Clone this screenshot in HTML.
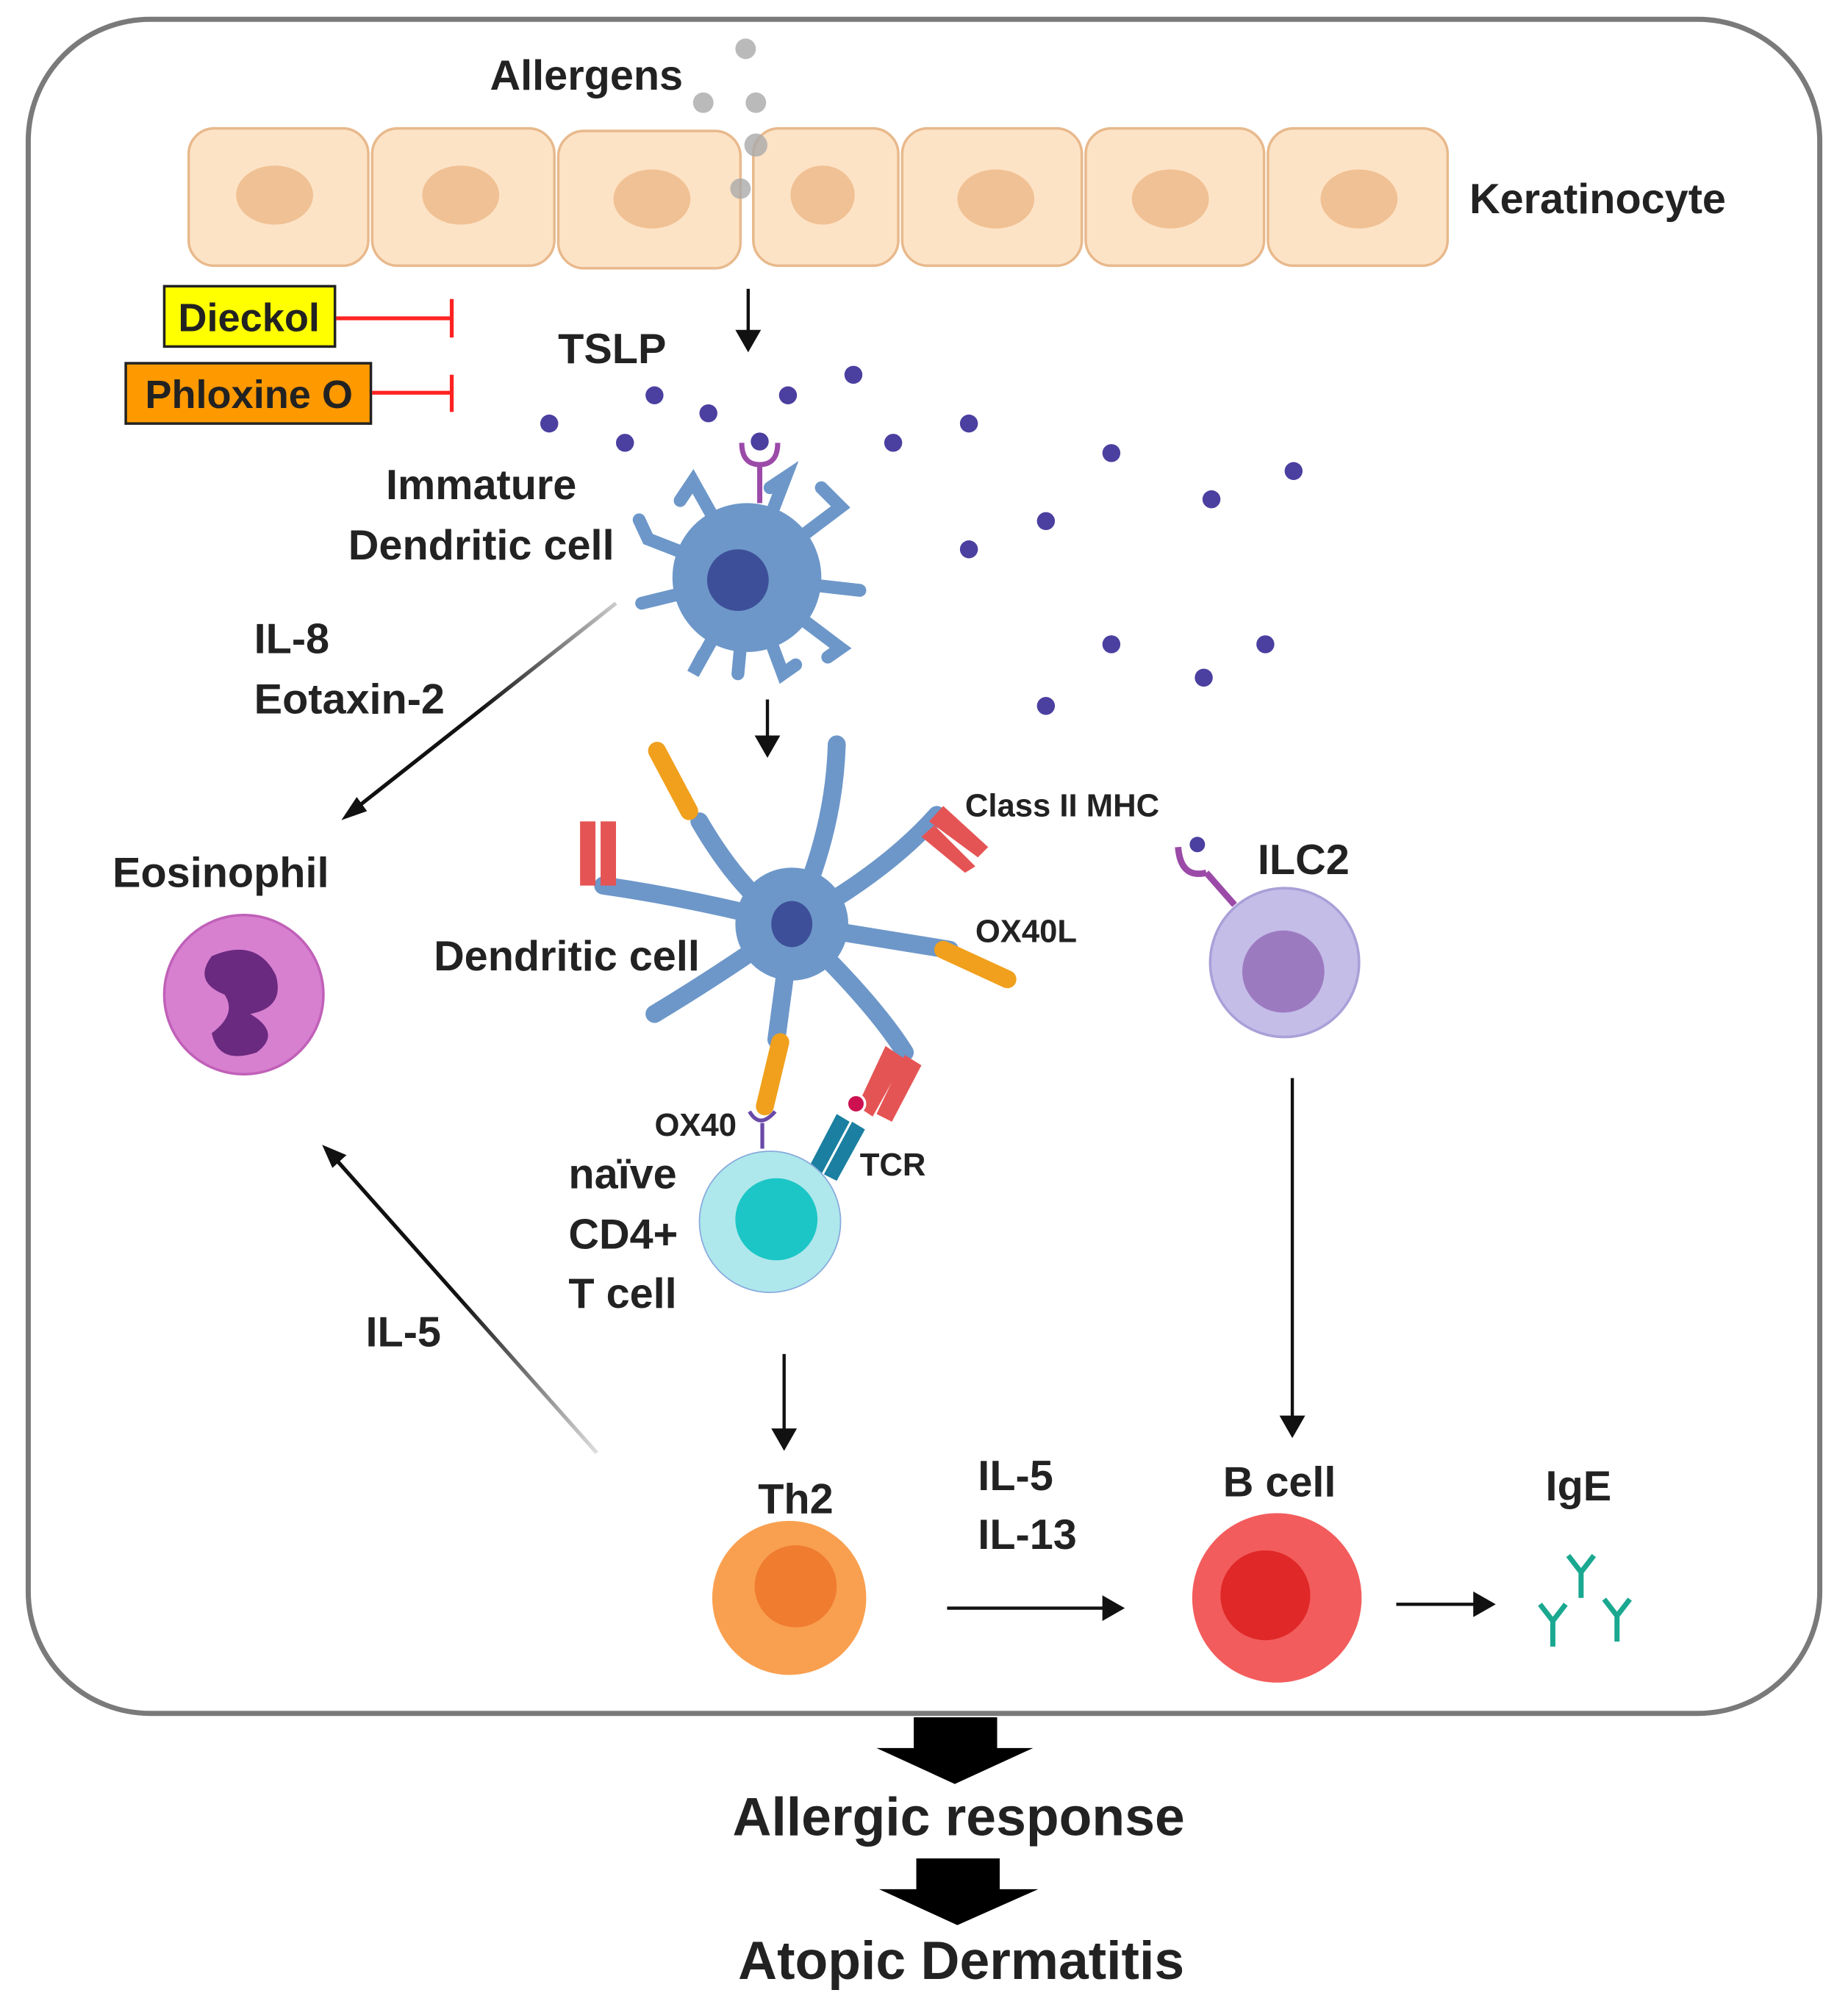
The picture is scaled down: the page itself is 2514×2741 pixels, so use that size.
<!DOCTYPE html>
<html><head><meta charset="utf-8"><style>
html,body{margin:0;padding:0;background:#fff}
svg{display:block}
text{font-family:"Liberation Sans",sans-serif;font-weight:bold;fill:#222}
</style></head><body>
<svg width="2514" height="2741" viewBox="0 0 1440 1570" xmlns="http://www.w3.org/2000/svg">
<defs>
<marker id="ah" markerWidth="8" markerHeight="8" refX="6" refY="4" orient="auto" markerUnits="strokeWidth"><path d="M0,0 L7,4 L0,8 z" fill="#111"/></marker>
<linearGradient id="g1" x1="480" y1="470" x2="268" y2="637" gradientUnits="userSpaceOnUse"><stop offset="0" stop-color="#ccc"/><stop offset="0.5" stop-color="#111"/></linearGradient>
<linearGradient id="g2" x1="465" y1="1132" x2="252" y2="893" gradientUnits="userSpaceOnUse"><stop offset="0" stop-color="#ddd"/><stop offset="0.5" stop-color="#111"/></linearGradient>
</defs>
<rect x="22" y="15" width="1396" height="1320" rx="95" fill="#fff" stroke="#7a7a7a" stroke-width="4"/>
<g fill="#fde3c6" stroke="#e8b98c" stroke-width="2">
<rect x="147" y="100" width="140" height="107" rx="20"/>
<rect x="290" y="100" width="142" height="107" rx="20"/>
<rect x="435" y="102" width="142" height="107" rx="20"/>
<rect x="587" y="100" width="113" height="107" rx="20"/>
<rect x="703" y="100" width="140" height="107" rx="20"/>
<rect x="846" y="100" width="139" height="107" rx="20"/>
<rect x="988" y="100" width="140" height="107" rx="20"/>
</g>
<g fill="#f0c194">
<ellipse cx="214" cy="152" rx="30" ry="23"/><ellipse cx="359" cy="152" rx="30" ry="23"/>
<ellipse cx="508" cy="155" rx="30" ry="23"/><ellipse cx="641" cy="152" rx="25" ry="23"/>
<ellipse cx="776" cy="155" rx="30" ry="23"/><ellipse cx="912" cy="155" rx="30" ry="23"/>
<ellipse cx="1059" cy="155" rx="30" ry="23"/>
</g>
<g fill="#aaa" opacity="0.8">
<circle cx="581" cy="38" r="8"/><circle cx="548" cy="80" r="8"/><circle cx="589" cy="80" r="8"/><circle cx="589" cy="113" r="9"/><circle cx="577" cy="147" r="8"/>
</g>
<text x="457" y="70" font-size="33" text-anchor="middle">Allergens</text>
<text x="1145" y="166" font-size="33">Keratinocyte</text>
<rect x="128" y="223" width="133" height="47" fill="#ffff00" stroke="#222" stroke-width="2"/>
<text x="194" y="258" font-size="31" text-anchor="middle">Dieckol</text>
<rect x="98" y="283" width="191" height="47" fill="#ff9900" stroke="#222" stroke-width="2"/>
<text x="194" y="318" font-size="31" text-anchor="middle">Phloxine O</text>
<g stroke="#f22" stroke-width="3"><line x1="262" y1="248" x2="352" y2="248"/><line x1="352" y1="233" x2="352" y2="263"/><line x1="290" y1="306" x2="352" y2="306"/><line x1="352" y1="292" x2="352" y2="321"/></g>
<line x1="583" y1="225" x2="583" y2="272" stroke="#111" stroke-width="2.5" marker-end="url(#ah)"/>
<text x="477" y="283" font-size="33" text-anchor="middle">TSLP</text>
<g fill="#4b3fa0">
<circle cx="428" cy="330" r="7"/><circle cx="487" cy="345" r="7"/><circle cx="510" cy="308" r="7"/><circle cx="552" cy="322" r="7"/><circle cx="614" cy="308" r="7"/><circle cx="665" cy="292" r="7"/><circle cx="696" cy="345" r="7"/><circle cx="755" cy="330" r="7"/><circle cx="866" cy="353" r="7"/><circle cx="944" cy="389" r="7"/><circle cx="1008" cy="367" r="7"/><circle cx="815" cy="406" r="7"/><circle cx="755" cy="428" r="7"/><circle cx="866" cy="502" r="7"/><circle cx="938" cy="528" r="7"/><circle cx="986" cy="502" r="7"/><circle cx="815" cy="550" r="7"/><circle cx="592" cy="344" r="7"/>
</g>
<g stroke="#6d97c9" stroke-width="10" stroke-linecap="round" fill="none">
<path d="M582 450 L540 375 L530 390"/><path d="M582 450 L612 372 L600 380"/><path d="M582 450 L505 420 L498 405"/><path d="M582 450 L500 470"/><path d="M582 450 L540 525 L548 510"/><path d="M582 450 L575 525"/><path d="M582 450 L610 525 L620 518"/><path d="M582 450 L655 505 L645 512"/><path d="M582 450 L670 460"/><path d="M582 450 L655 395 L640 380"/>
</g>
<circle cx="582" cy="450" r="58" fill="#6d97c9"/>
<circle cx="575" cy="452" r="24" fill="#3e4f99"/>
<path d="M578 345 Q578 362 592 362 Q606 362 606 345" stroke="#9b4aa8" stroke-width="4" fill="none"/>
<line x1="592" y1="362" x2="592" y2="392" stroke="#9b4aa8" stroke-width="4"/>
<text x="375" y="389" font-size="33" text-anchor="middle">Immature</text>
<text x="375" y="436" font-size="33" text-anchor="middle">Dendritic cell</text>
<line x1="480" y1="470" x2="272" y2="634" stroke="url(#g1)" stroke-width="3"/>
<path d="M266 639 L278 621 L286 632 z" fill="#111"/>
<text x="198" y="509" font-size="33">IL-8</text>
<text x="198" y="556" font-size="33">Eotaxin-2</text>
<line x1="598" y1="545" x2="598" y2="588" stroke="#111" stroke-width="2.5" marker-end="url(#ah)"/>
<g stroke="#6d97c9" stroke-width="14" stroke-linecap="round" fill="none">
<path d="M617 720 Q580 700 545 640"/><path d="M617 720 Q650 650 652 580"/><path d="M617 720 Q690 680 730 635"/><path d="M617 720 Q540 700 470 690"/><path d="M617 720 L740 740"/><path d="M617 720 Q560 760 510 790"/><path d="M617 720 L605 810"/><path d="M617 720 Q680 780 705 820"/>
</g>
<circle cx="617" cy="720" r="44" fill="#6d97c9"/>
<ellipse cx="617" cy="720" rx="16" ry="18" fill="#3e4f99"/>
<g stroke="#f0a01c" stroke-width="14" stroke-linecap="round"><line x1="512" y1="585" x2="537" y2="632"/><line x1="735" y1="740" x2="785" y2="763"/><line x1="608" y1="812" x2="596" y2="862"/></g>
<g fill="#e55454"><rect x="452" y="640" width="12" height="50"/><rect x="468" y="640" width="12" height="50"/>
<polygon points="724,640 735,628 770,660 762,668"/><polygon points="718,652 728,643 760,675 752,680"/>
<polygon points="690,815 705,825 680,870 668,862"/><polygon points="705,822 718,830 695,874 683,868"/></g>
<circle cx="667" cy="860" r="7" fill="#cc1050" stroke="#fff" stroke-width="2"/>
<g fill="#1a7fa0"><polygon points="652,868 662,874 640,915 630,910"/><polygon points="664,874 674,880 652,920 642,915"/></g>
<path d="M584 866 Q592 880 604 866" stroke="#6a4aa8" stroke-width="3" fill="none"/><line x1="594" y1="875" x2="594" y2="895" stroke="#6a4aa8" stroke-width="3"/>
<text x="752" y="636" font-size="25">Class II MHC</text>
<text x="760" y="734" font-size="25">OX40L</text>
<text x="338" y="756" font-size="33">Dendritic cell</text>
<text x="172" y="691" font-size="33" text-anchor="middle">Eosinophil</text>
<circle cx="190" cy="775" r="62" fill="#d880d0" stroke="#c060b8" stroke-width="2"/>
<path d="M165 745 Q200 730 215 760 Q222 785 195 790 Q220 805 200 820 Q170 830 165 805 Q185 790 175 775 Q150 765 165 745z" fill="#6a2a80"/>
<circle cx="600" cy="952" r="55" fill="#aee8ec" stroke="#8ad" stroke-width="1"/>
<circle cx="605" cy="950" r="32" fill="#1cc6c6"/>
<text x="542" y="885" font-size="25" text-anchor="middle">OX40</text>
<text x="670" y="916" font-size="25">TCR</text>
<text x="443" y="926" font-size="33">naïve</text>
<text x="443" y="973" font-size="33">CD4+</text>
<text x="443" y="1019" font-size="33">T cell</text>
<text x="980" y="681" font-size="33">ILC2</text>
<circle cx="1001" cy="750" r="58" fill="#c4bde8" stroke="#a9a0d8" stroke-width="2"/>
<circle cx="1000" cy="757" r="32" fill="#9c7ac0"/>
<path d="M918 660 Q920 685 940 680" stroke="#9b4aa8" stroke-width="5" fill="none"/>
<circle cx="933" cy="658" r="6" fill="#4b3fa0"/>
<line x1="940" y1="680" x2="962" y2="705" stroke="#9b4aa8" stroke-width="5"/>
<line x1="1007" y1="840" x2="1007" y2="1118" stroke="#111" stroke-width="2.5" marker-end="url(#ah)"/>
<line x1="465" y1="1132" x2="257" y2="898" stroke="url(#g2)" stroke-width="3"/>
<path d="M251 892 L270 900 L259 910 z" fill="#111"/>
<text x="285" y="1049" font-size="33">IL-5</text>
<line x1="611" y1="1055" x2="611" y2="1128" stroke="#111" stroke-width="2.5" marker-end="url(#ah)"/>
<text x="620" y="1179" font-size="33" text-anchor="middle">Th2</text>
<circle cx="615" cy="1245" r="60" fill="#f9a050"/>
<circle cx="620" cy="1236" r="32" fill="#f07c30"/>
<text x="762" y="1161" font-size="33">IL-5</text>
<text x="762" y="1207" font-size="33">IL-13</text>
<line x1="738" y1="1253" x2="874" y2="1253" stroke="#111" stroke-width="2.5" marker-end="url(#ah)"/>
<text x="997" y="1166" font-size="33" text-anchor="middle">B cell</text>
<circle cx="995" cy="1245" r="66" fill="#f35c5c"/>
<circle cx="986" cy="1243" r="35" fill="#e02828"/>
<line x1="1088" y1="1250" x2="1163" y2="1250" stroke="#111" stroke-width="2.5" marker-end="url(#ah)"/>
<text x="1230" y="1169" font-size="33" text-anchor="middle">IgE</text>
<g stroke="#1aa890" stroke-width="4" fill="none">
<path d="M1222 1212 L1232 1225 L1242 1212 M1232 1225 L1232 1245"/>
<path d="M1200 1250 L1210 1263 L1220 1250 M1210 1263 L1210 1283"/>
<path d="M1250 1246 L1260 1259 L1270 1246 M1260 1259 L1260 1279"/>
</g>
<polygon points="712,1338 777,1338 777,1362 805,1362 744,1390 683,1362 712,1362" fill="#000"/>
<text x="747" y="1430" font-size="42" text-anchor="middle">Allergic response</text>
<polygon points="714,1448 779,1448 779,1472 809,1472 746,1500 685,1472 714,1472" fill="#000"/>
<text x="749" y="1542" font-size="42" text-anchor="middle">Atopic Dermatitis</text>
</svg>
</body></html>
